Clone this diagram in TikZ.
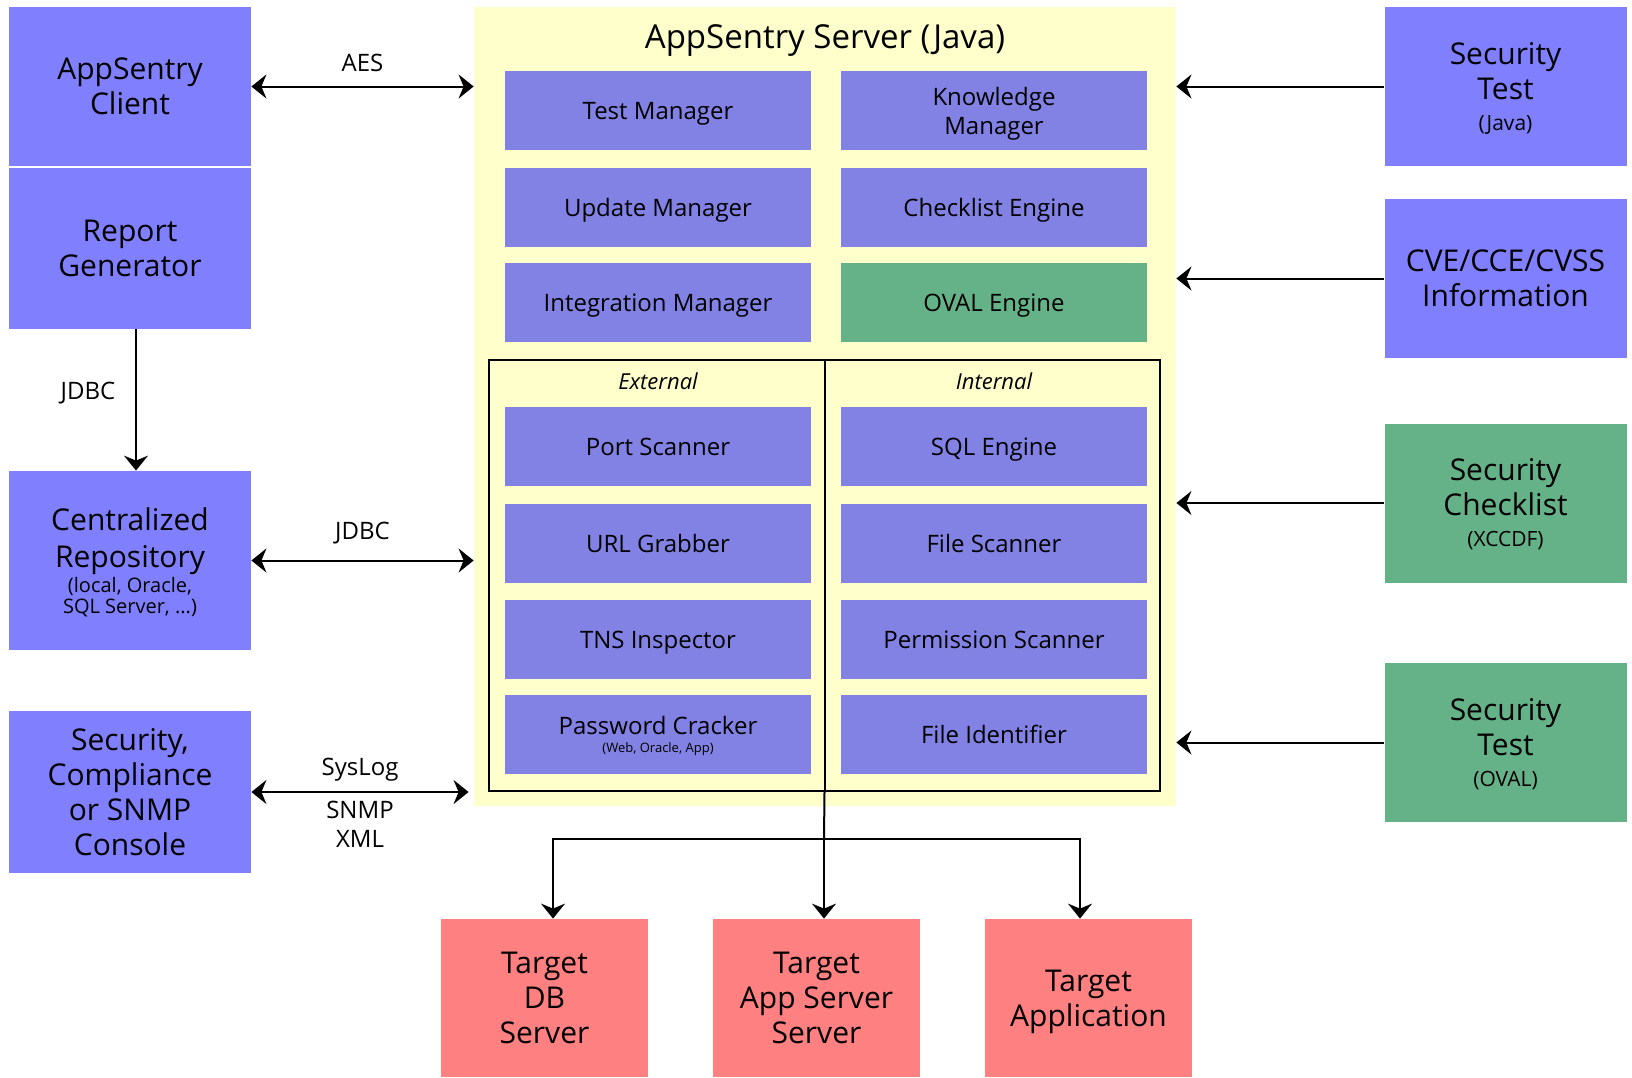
\documentclass[tikz,border=0pt]{standalone}
\usepackage{fontspec}
\setmainfont{Open Sans}
\usepackage{tikz}
\usetikzlibrary{arrows.meta,calc}
\definecolor{extblau}{HTML}{8080FF}
\definecolor{modblau}{HTML}{8282E4}
\definecolor{gruen}{HTML}{66B288}
\definecolor{rosa}{HTML}{FF8080}
\definecolor{hellgelb}{HTML}{FFFFCC}
\newcommand{\kleintext}{\fontsize{10.5}{12}\selectfont}
\tikzset{
  pfeil/.style={-{Stealth[length=7.5pt,width=12pt,inset=2.5pt]},line width=1pt},
  dpfeil/.style={{Stealth[length=7.5pt,width=12pt,inset=2.5pt]}-{Stealth[length=7.5pt,width=12pt,inset=2.5pt]},line width=1pt},
  kasten/.style={rectangle,inner sep=0pt,align=center,font=\fontsize{15}{17.5}\selectfont},
  extern/.style={kasten,fill=extblau,minimum width=121pt,minimum height=79.5pt},
  modul/.style={kasten,fill=modblau,minimum width=153pt,minimum height=39.5pt,font=\fontsize{12}{14}\selectfont,text height=9pt,text depth=0pt},
  ziel/.style={kasten,fill=rosa,minimum width=103.5pt,minimum height=79pt,text depth=-7pt},
  proto/.style={font=\fontsize{12}{14.5}\selectfont,align=center},
}
\begin{document}
\begin{tikzpicture}[x=0.5pt,y=-0.5pt]
  \useasboundingbox (0,0) rectangle (1632,1077);
  \node[kasten,fill=hellgelb,minimum width=351pt,minimum height=399.5pt] (server) at (825,406.5) {};
  \node[font=\fontsize{16.5}{19}\selectfont] (titel) at (825,41) {AppSentry Server (Java)};

  \node[modul] (testm) at (658,110.5) {Test Manager};
  \node[modul,text height={},text depth=-0.3pt] (knowm) at (994,110.5) {Knowledge\\[0.5pt]Manager};
  \node[modul] (updm) at (658,207.5) {Update Manager};
  \node[modul] (chkeng) at (994,207.5) {Checklist Engine};
  \node[modul] (intm) at (658,302.5) {Integration Manager};
  \node[modul,fill=gruen] (ovaleng) at (994,302.5) {OVAL Engine};

  \node[draw,line width=1pt,minimum width=335.5pt,minimum height=215.5pt] (rahmen) at (824.5,575.5) {};
  \draw[line width=1pt] (rahmen.north) -- (rahmen.south);
  \node[font=\fontsize{11}{13}\selectfont\itshape] (extlab) at (658,381) {External};
  \node[font=\fontsize{11}{13}\selectfont\itshape] (intlab) at (994,381) {Internal};

  \node[modul] (port) at (658,446.5) {Port Scanner};
  \node[modul] (sqleng) at (994,446.5) {SQL Engine};
  \node[modul] (url) at (658,543.5) {URL Grabber};
  \node[modul] (filesc) at (994,543.5) {File Scanner};
  \node[modul] (tns) at (658,639.5) {TNS Inspector};
  \node[modul] (perm) at (994,639.5) {Permission Scanner};
  \node[modul,text height={},text depth=-3.5pt] (pwd) at (658,734.5) {Password Cracker\\[-5pt]{\fontsize{6.5}{7.5}\selectfont (Web, Oracle, App)}};
  \node[modul] (fileid) at (994,734.5) {File Identifier};

  \node[extern] (client) at (130,86.5) {AppSentry\\Client};
  \node[extern,minimum height=80.5pt] (report) at (130,248.5) {Report\\Generator};
  \node[extern,minimum height=89.5pt,text depth=-0.2pt] (repo) at (130,560.5) {Centralized\\[1pt]Repository\\[-5pt]{\fontsize{10}{11}\selectfont (local, Oracle,}\\[-6.6pt]{\fontsize{10}{11}\selectfont SQL Server, ...)}};
  \node[extern,minimum height=81pt] (konsole) at (130,792) {Security,\\Compliance\\or SNMP\\Console};

  \node[extern,text depth=-0.5pt] (stjava) at (1505.5,86.5) {Security\\Test\\[-2pt]{\kleintext (Java)}};
  \node[extern] (cve) at (1505.5,278.5) {CVE/CCE/CVSS\\Information};
  \node[extern,fill=gruen,text depth=1pt] (checkl) at (1505.5,503) {Security\\Checklist\\[-2pt]{\kleintext (XCCDF)}};
  \node[extern,fill=gruen,text depth=-0.5pt] (stoval) at (1505.5,742.5) {Security\\Test\\[-2pt]{\kleintext (OVAL)}};

  \node[ziel] (tdb) at (544.5,998) {Target\\DB\\Server};
  \node[ziel] (tapp) at (816.5,998) {Target\\App Server\\Server};
  \node[ziel,text depth=-6.4pt] (tappl) at (1088.5,998) {Target\\Application};

  \draw[dpfeil] (client.east) -- (client.east -| server.west) node[midway,above=3.5pt,proto] {AES};
  \draw[pfeil] ([xshift=3pt]report.south) -- ([xshift=3pt]repo.north);
  \node[proto] (jdbc1) at (88,393) {JDBC};
  \draw[dpfeil] (repo.east) -- (repo.east -| server.west) node[midway,above=4.5pt,proto] {JDBC};
  \draw[dpfeil] (konsole.east) -- ([xshift=-2.5pt]konsole.east -| server.west)
    node[midway,above=1.5pt,proto] {SysLog} node[midway,below=0.5pt,proto] {SNMP\\XML};

  \foreach \q in {stjava,cve,checkl,stoval}
    \draw[pfeil] (\q.west) -- (\q.west -| server.east);

  \coordinate (gabel) at (824,839);
  \draw[line width=1pt] (rahmen.south) -- (gabel);
  \draw[pfeil] (gabel) -- ([xshift=3.75pt]tapp.north);
  \draw[pfeil] (gabel) -| ([xshift=4.25pt]tdb.north);
  \draw[pfeil] (gabel) -| ([xshift=-4.25pt]tappl.north);
\end{tikzpicture}
\end{document}
